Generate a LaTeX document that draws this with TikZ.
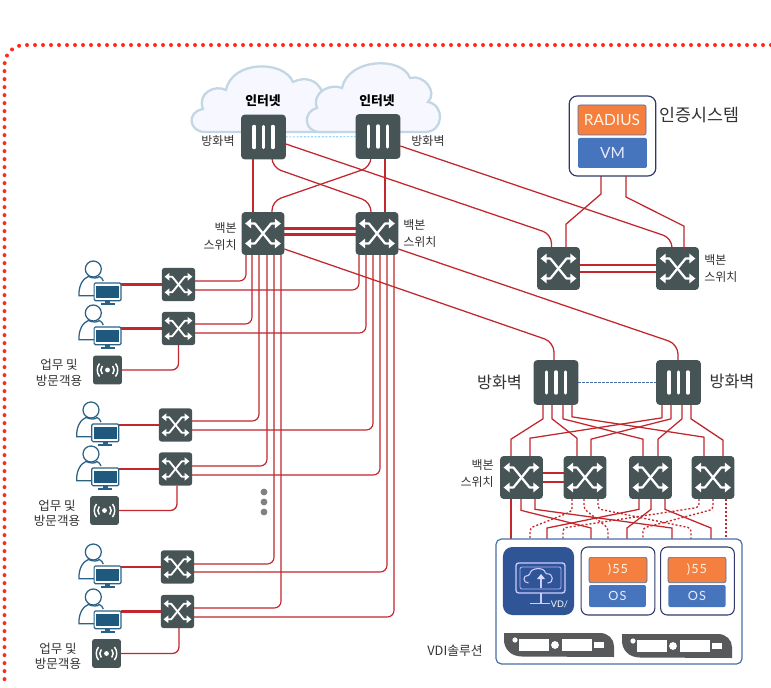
\documentclass[tikz,border=0pt]{standalone}
\usepackage{fontspec}
\setmainfont{Lato}
\newfontfamily\kr{Noto Sans CJK KR}
\usetikzlibrary{calc}
\pgfdeclarelayer{back}
\pgfsetlayers{back,main}
\definecolor{dev}{HTML}{475456}
\definecolor{wirered}{HTML}{C1272D}
\definecolor{ublue}{HTML}{2A6287}
\definecolor{uscreen}{HTML}{1F5A7E}
\definecolor{orangebox}{HTML}{F47F3E}
\definecolor{bluebox}{HTML}{4674BD}
\definecolor{vdiblue}{HTML}{2F5597}
\definecolor{navy}{HTML}{2F3A6B}
\definecolor{frameblue}{HTML}{4A6FA5}
\definecolor{cloudline}{HTML}{C3D6E4}
\definecolor{serverg}{HTML}{58595B}
\definecolor{txt}{HTML}{333333}
\tikzset{
  swbig/.style={fill=dev,rounded corners=2.4pt,minimum size=32pt,inner sep=0pt,outer sep=0pt},
  swsmall/.style={fill=dev,rounded corners=2pt,minimum size=24.9pt,inner sep=0pt,outer sep=0pt},
  fwbox/.style={fill=dev,rounded corners=2.6pt,minimum size=33.5pt,inner sep=0pt,outer sep=0pt},
  apbox/.style={fill=dev,rounded corners=2pt,minimum size=21.7pt,inner sep=0pt,outer sep=0pt},
  wire/.style={wirered,line width=.95pt},
  heavy/.style={wirered,line width=1.6pt},
  dotwire/.style={wirered,line width=1pt,dash pattern=on 1.5pt off 1.5pt},
  lab/.style={font=\kr\fontsize{9}{12.5}\selectfont,text=txt,inner sep=0pt},
  biglab/.style={font=\kr\fontsize{12.2}{14}\selectfont,text=txt,inner sep=0pt},
  netlab/.style={font=\kr\bfseries\fontsize{9.6}{12}\selectfont,text=black,inner sep=0pt},
  orangeb/.style={fill=orangebox,draw=frameblue,line width=.5pt,rounded corners=1.5pt,inner sep=0pt,text=white!92!orange},
  blueb/.style={fill=bluebox,rounded corners=1.5pt,inner sep=0pt,text=white!92!blue},
  spaced/.style={font=\fontsize{9.5}{11}\selectfont\addfontfeature{LetterSpace=8}},
  cloudy/.style={fill=white!97!blue,draw=cloudline,line width=1.7pt},
  monbox/.style={fill=white,draw=ublue,line width=.9pt,rounded corners=1pt,minimum width=20.2pt,minimum height=13.4pt,inner sep=0pt,outer sep=0pt},
  rackbox/.style={fill=serverg},
}
\newcommand\swicon[3]{%
  \begin{scope}[shift={(#1)},scale=#2]
    \draw[white,line width=#3,line join=round] (-.62,-.47) -- (-.38,-.47) -- (.38,.47) -- (.62,.47);
    \draw[white,line width=#3,line join=round] (-.62,.47) -- (-.38,.47) -- (.38,-.47) -- (.62,-.47);
    \fill[white] (-.84,-.47) -- (-.56,-.7) -- (-.56,-.24) -- cycle;
    \fill[white] (.84,-.47) -- (.56,-.7) -- (.56,-.24) -- cycle;
    \fill[white] (-.84,.47) -- (-.56,.7) -- (-.56,.24) -- cycle;
    \fill[white] (.84,.47) -- (.56,.7) -- (.56,.24) -- cycle;
  \end{scope}}
\newcommand\fwicon[1]{%
  \foreach \dx in {-9.3,0,9.3}
    \draw[white,line width=2.6pt,line cap=round] ([shift={(\dx,-10.5)}]#1.center) -- ([shift={(\dx,10.5)}]#1.center);}
\newcommand\apicon[1]{%
  \begin{scope}[shift={(#1)}]
    \fill[white] (0,0) circle (2.4);
    \draw[white,line width=1.1pt] (-5.2,-4) .. controls (-7.2,-1.5) and (-7.2,1.5) .. (-5.2,4);
    \draw[white,line width=1.1pt] (5.2,-4) .. controls (7.2,-1.5) and (7.2,1.5) .. (5.2,4);
    \draw[white,line width=1.1pt] (-8,-6.5) .. controls (-11,-2.5) and (-11,2.5) .. (-8,6.5);
    \draw[white,line width=1.1pt] (8,-6.5) .. controls (11,-2.5) and (11,2.5) .. (8,6.5);
  \end{scope}}
\newcommand\usericon[3]{%
  \begin{scope}[shift={(#2,#3)}]
    \draw[ublue,line width=.95pt] (0,0) circle (8);
    \draw[ublue,line width=.95pt] (2,26.7) -- (-14.3,26.7) .. controls (-14.8,16) and (-10,9.5) .. (-5,7.5)
      .. controls (0,9.5) and (4,9.5) .. (6,7.5) .. controls (8,8.5) and (9.5,10) .. (10,12);
    \node[monbox] (#1) at (14.3,22.85) {};
    \fill[uscreen] (2.8,16.6) rectangle (25.8,29.3);
    \fill[ublue] (12,32.3) rectangle (16.6,34.5);
    \fill[ublue] (7.3,34.2) rectangle (21.3,36);
  \end{scope}}
\newcommand\rack[2]{%
  \begin{scope}[shift={(#1,#2)}]
    \fill[rackbox] (0,0) -- (96,0) .. controls (104,0) and (110,6) .. (110,13) -- (110,24) -- (18,23.5)
       .. controls (6,23.5) and (0,15) .. (0,7) -- cycle;
    \fill[white] (11,7) circle (2.6);
    \fill[white] (15,6) rectangle (45,18);
    \fill[white] (51,12) circle (3.9);
    \fill[white] (58,6) rectangle (88,18);
    \fill[white] (90,9) rectangle (100,15);
  \end{scope}}
\begin{document}
\begin{tikzpicture}[x=.75pt,y=-.75pt]
\useasboundingbox (0,0) rectangle (771,688);
\draw[red!85!orange!90!white,line width=3pt,line cap=round,dash pattern=on 0pt off 6pt,rounded corners=15pt] (771,45) -- (4.5,45) -- (4.5,684);

% devices
\node[fwbox] (fw1) at (263.5,137) {};
\node[fwbox] (fw2) at (378,136.5) {};
\node[swbig] (bb1) at (263,233.5) {};
\node[swbig] (bb2) at (377,233.5) {};
\node[swbig] (r1) at (558.5,268.5) {};
\node[swbig] (r2) at (677.5,268.5) {};
\node[fwbox] (fw3) at (556,382.5) {};
\node[fwbox] (fw4) at (678.5,382.5) {};
\node[swbig] (b1) at (521.5,477.5) {};
\node[swbig] (b2) at (585,477.5) {};
\node[swbig] (b3) at (650.5,477.5) {};
\node[swbig] (b4) at (713,477.5) {};
\node[swsmall] (a1) at (178.5,284.5) {};
\node[swsmall] (a2) at (178.5,328.5) {};
\node[swsmall] (a3) at (175.5,425) {};
\node[swsmall] (a4) at (175.5,469) {};
\node[swsmall] (a5) at (177.5,567) {};
\node[swsmall] (a6) at (177.5,611.5) {};
\node[apbox] (ap1) at (107.5,370) {};
\node[apbox] (ap2) at (104.5,510.5) {};
\node[apbox] (ap3) at (106.5,653.5) {};
\foreach \n in {fw1,fw2,fw3,fw4} {\fwicon{\n}}
\foreach \n in {bb1,bb2,r1,r2,b1,b2,b3,b4} {\swicon{\n}{21.25}{1.7pt}}
\foreach \n in {a1,a2,a3,a4,a5,a6} {\swicon{\n}{16.5}{1.4pt}}
\foreach \n in {ap1,ap2,ap3} {\apicon{\n}}

% users
\usericon{u1}{93.3}{269}
\usericon{u2}{93.3}{313}
\usericon{u3}{91}{410}
\usericon{u4}{91}{454}
\usericon{u5}{93.3}{552}
\usericon{u6}{93.3}{597}

% authentication system
\node[draw=navy,fill=white,line width=.9pt,rounded corners=6pt,minimum width=65pt,minimum height=60pt,inner sep=0pt,outer sep=0pt] (rad) at (612.5,136) {};
\node[orangeb,minimum width=51pt,minimum height=22.5pt,font=\fontsize{11.6}{13}\selectfont] (radius) at (612,120) {RADIUS};
\node[blueb,minimum width=51.7pt,minimum height=22.5pt,font=\fontsize{11.6}{13}\selectfont] (vm) at (612.5,153) {VM};
\node[biglab,font=\kr\fontsize{13}{15}\selectfont,anchor=west] (authl) at (659,115) {인증시스템};

% VDI block
\node[draw=frameblue,fill=white,line width=.9pt,rounded corners=4pt,minimum width=184.5pt,minimum height=93.7pt,inner sep=0pt,outer sep=0pt] (box) at (619,601.5) {};
\node[fill=vdiblue,rounded corners=7pt,minimum width=53.3pt,minimum height=51pt,inner sep=0pt,outer sep=0pt] (vdi) at (538.5,581) {};
\begin{scope}[shift={(vdi)}]
  \draw[white!80!blue,line width=1pt,rounded corners=2pt] (-22.5,-18) rectangle (26.5,12);
  \draw[white!70!blue,line width=.6pt,rounded corners=1.5pt] (-18.5,-14) rectangle (22.5,8);
  \draw[white!80!blue,line width=.8pt,rounded corners=1pt] (-10,2) .. controls (-16,2) and (-16,-6) .. (-9,-5.5) .. controls (-8,-14) and (6,-14) .. (7,-7) .. controls (15,-8) and (16,2) .. (9,2);
  \draw[white!80!blue,line width=1pt] (2.5,7) -- (2.5,-3);
  \fill[white!85!blue] (2.5,-7) -- (-1.5,-2) -- (6.5,-2) -- cycle;
  \draw[white!80!blue,line width=1.4pt] (2.5,12) -- (2.5,22);
  \draw[white!80!blue,line width=1.4pt] (-9,22.5) -- (11,22.5);
\end{scope}
\node[text=white,inner sep=0pt,font=\fontsize{6.8}{8}\selectfont] (vdit) at (559.5,604) {VD/};
\node[draw=navy,fill=white,line width=.8pt,rounded corners=5pt,minimum width=55.3pt,minimum height=51pt,inner sep=0pt,outer sep=0pt] (vm1) at (618,581) {};
\node[draw=navy,fill=white,line width=.8pt,rounded corners=5pt,minimum width=55.3pt,minimum height=51pt,inner sep=0pt,outer sep=0pt] (vm2) at (697.5,581) {};
\node[orangeb,spaced,minimum width=43.5pt,minimum height=19pt] (o1) at (618,570) {)55};
\node[blueb,spaced,minimum width=42.7pt,minimum height=16.5pt] (s1) at (617.5,596) {OS};
\node[orangeb,spaced,minimum width=43.5pt,minimum height=19pt] (o2) at (697,570) {)55};
\node[blueb,spaced,minimum width=43pt,minimum height=16.5pt] (s2) at (697,596) {OS};
\rack{504}{633}
\rack{622}{634}
\node[lab,font=\kr\fontsize{9.6}{12}\selectfont] (vdil) at (455,651) {VDI솔루션};

% labels
\node[netlab] (in1) at (263,101) {인터넷};
\node[netlab] (in2) at (377,101) {인터넷};
\node[lab] (l1) at (218,141) {방화벽};
\node[lab] (l2) at (428,141) {방화벽};
\node[lab,align=right,anchor=east] (l3) at (237,236.5) {백본\\스위치};
\node[lab,align=left,anchor=west] (l4) at (403,233.5) {백본\\스위치};
\node[lab,align=left,anchor=west] (l5) at (704,268.5) {백본\\스위치};
\node[lab,align=right,anchor=east] (l6) at (494,473.5) {백본\\스위치};
\node[biglab] (l7) at (499.5,382) {방화벽};
\node[biglab] (l8) at (732,381) {방화벽};
\node[lab,font=\kr\fontsize{9.4}{12}\selectfont,align=center] (l9) at (59,373) {업무 및\\방문객용};
\node[lab,font=\kr\fontsize{9.4}{11.2}\selectfont,align=center] (l10) at (57,513.5) {업무 및\\방문객용};
\node[lab,font=\kr\fontsize{9.4}{11.2}\selectfont,align=center] (l11) at (58,656) {업무 및\\방문객용};

% ellipsis dots
\foreach \yy in {492,502,512} \fill[gray!75!black!80!white] (264,\yy) circle (3.4);

% radius line that overlaps the switch
\draw[wire] ([shift={(13.5,0)}]rad.south) -- ([shift={(13.5,21)}]rad.south) -- ([shift={(6.5,-21)}]r2.north) -- ([shift={(6.5,3)}]r2.north);

\begin{pgfonlayer}{back}
  \fill[white] (0,0) rectangle (771,688);
  % clouds
  \draw[cloudy] (205,132) .. controls (189,132) and (186,112) .. (203,109)
     .. controls (197,94) and (214,84) .. (226,90)
     .. controls (232,60) and (284,60) .. (293,82)
     .. controls (305,76) and (318,80) .. (322,92) -- (335,132) -- cycle;
  \draw[cloudy] (320,132) .. controls (304,132) and (302,112) .. (317,108)
     .. controls (311,92) and (331,83) .. (342,88)
     .. controls (348,58) and (402,56) .. (410,78)
     .. controls (424,74) and (438,92) .. (428,102)
     .. controls (445,105) and (444,132) .. (425,132) -- cycle;
  \draw[blue!40!cyan!40!white,line width=.9pt,dash pattern=on 1.5pt off 1.2pt] (fw1) -- (fw2);

  % top tier
  \draw[heavy] ([shift={(-10.5,0)}]fw1.south) -- ([shift={(-10,0)}]bb1.north);
  \draw[heavy] ([shift={(7,0)}]fw2.south) -- ([shift={(8,0)}]bb2.north);
  \draw[wire,rounded corners=7pt] ([shift={(8.5,0)}]fw1.south) -- ([shift={(8.5,8)}]fw1.south) -- ([shift={(-6,-10)}]bb2.north) -- ([shift={(-6,0)}]bb2.north);
  \draw[wire,rounded corners=7pt] ([shift={(-7,0)}]fw2.south) -- ([shift={(-7,8)}]fw2.south) -- ([shift={(9,-11)}]bb1.north) -- ([shift={(9,0)}]bb1.north);
  \draw[wire,rounded corners=7pt] ([shift={(0,7)}]fw1.east) -- ([shift={(-7,-13)}]r1.north) -- ([shift={(-7,0)}]r1.north);
  \draw[wire,rounded corners=7pt] ([shift={(0,9.5)}]fw2.east) -- ([shift={(-5.5,-9)}]r2.north) -- ([shift={(-5.5,0)}]r2.north);
  \draw[wire,rounded corners=7.5pt] ([shift={(0,15.5)}]bb1.east) -- ([shift={(-2,-18)}]fw3.north) -- ([shift={(-2,0)}]fw3.north);
  \draw[wire,rounded corners=7.5pt] ([shift={(0,15.5)}]bb2.east) -- ([shift={(-.5,-16)}]fw4.north) -- ([shift={(-.5,0)}]fw4.north);
  \foreach \dy in {-5,1} \draw[heavy] ([shift={(0,\dy)}]bb1.east) -- ([shift={(0,\dy)}]bb2.west);
  \foreach \dy in {-3.5,3.5} \draw[heavy] ([shift={(0,\dy)}]r1.east) -- ([shift={(0,\dy)}]r2.west);
  \foreach \dy in {-4.5,4.5} \draw[heavy] ([shift={(0,\dy)}]b1.east) -- ([shift={(0,\dy)}]b2.west);
  \draw[wire] ([shift={(-11.5,0)}]rad.south) -- ([shift={(-11.5,18)}]rad.south) -- ([shift={(7.5,-23)}]r1.north) -- ([shift={(7.5,0)}]r1.north);
  \draw[frameblue,line width=1pt,dash pattern=on 1.8pt off 1.2pt] (fw3) -- (fw4);

  % access uplinks
  \foreach \an/\dyA/\bn/\dxA in {a1/-3.5/bb1/-17, a1/5.5/bb2/-18, a2/-4.5/bb1/-11, a2/4.5/bb2/-11, a3/-4/bb1/-4, a3/5/bb2/-4, a4/-3/bb1/4, a4/6/bb2/3, a5/-3/bb1/11, a5/5/bb2/10, a6/-3.5/bb1/18, a6/5.5/bb2/17}
    \draw[wire,line width=.85pt,rounded corners=5pt] ([shift={(0,\dyA)}]\an.east) -| ([shift={(\dxA,0)}]\bn.south);
  \foreach \un/\an in {u1/a1,u2/a2,u3/a3,u4/a4,u5/a5,u6/a6}
    \draw[heavy] (\an.west -| \un.east) -- (\an.west);
  \draw[wire,rounded corners=5pt] (ap1.east) -| (a2.south);
  \draw[wire,rounded corners=5pt] (ap2.east) -| ([shift={(1.5,0)}]a4.south);
  \draw[wire,rounded corners=5pt] (ap3.east) -| ([shift={(1.5,0)}]a6.south);

  % firewall to VDI switches
  \foreach \sn/\sx/\ha/\dn/\dx/\hb in {
    fw3/-13/14/b1/-10.5/17, fw3/-4/14/b2/-8/18, fw3/7/14/b3/-7.5/17, fw3/16/12/b4/-9/19,
    fw4/-16.5/13/b1/8.5/18, fw4/-7.5/14/b2/6/17, fw4/3.5/14/b3/7.5/17, fw4/12.5/14/b4/10/16}
    \draw[wire] ([shift={(\sx,0)}]\sn.south) -- ([shift={(\sx,\ha)}]\sn.south) -- ([shift={(\dx,-\hb)}]\dn.north) -- ([shift={(\dx,0)}]\dn.north);

  % VDI switches to the block
  \draw[heavy] ([shift={(-10.5,0)}]b1.south) -- ([shift={(-108,0)}]box.north);
  \foreach \sn/\sx/\ha/\dx in {b1/-.5/11.5/-28, b1/13.5/10.5/53, b3/-11.5/10.5/-72, b3/.5/10.5/8, b3/14.5/10.5/92}
    \draw[wire] ([shift={(\sx,0)}]\sn.south) -- ([shift={(\sx,\ha)}]\sn.south) -- ([shift={(\dx,-11)}]box.north) -- ([shift={(\dx,0)}]box.north);
  \foreach \sn/\sx/\ha/\dx in {b2/-13/12.5/-89, b2/-1/10/-11, b2/13/10/72, b4/-14/8.5/-56, b4/0/10.5/24}
    \draw[dotwire,rounded corners=2.5pt] ([shift={(\sx,0)}]\sn.south) -- ([shift={(\sx,\ha)}]\sn.south) -- ([shift={(\dx,-11)}]box.north) -- ([shift={(\dx,0)}]box.north);
  \draw[dotwire] ([shift={(13,0)}]b4.south) -- ([shift={(107,0)}]box.north);
\end{pgfonlayer}
\end{tikzpicture}
\end{document}
